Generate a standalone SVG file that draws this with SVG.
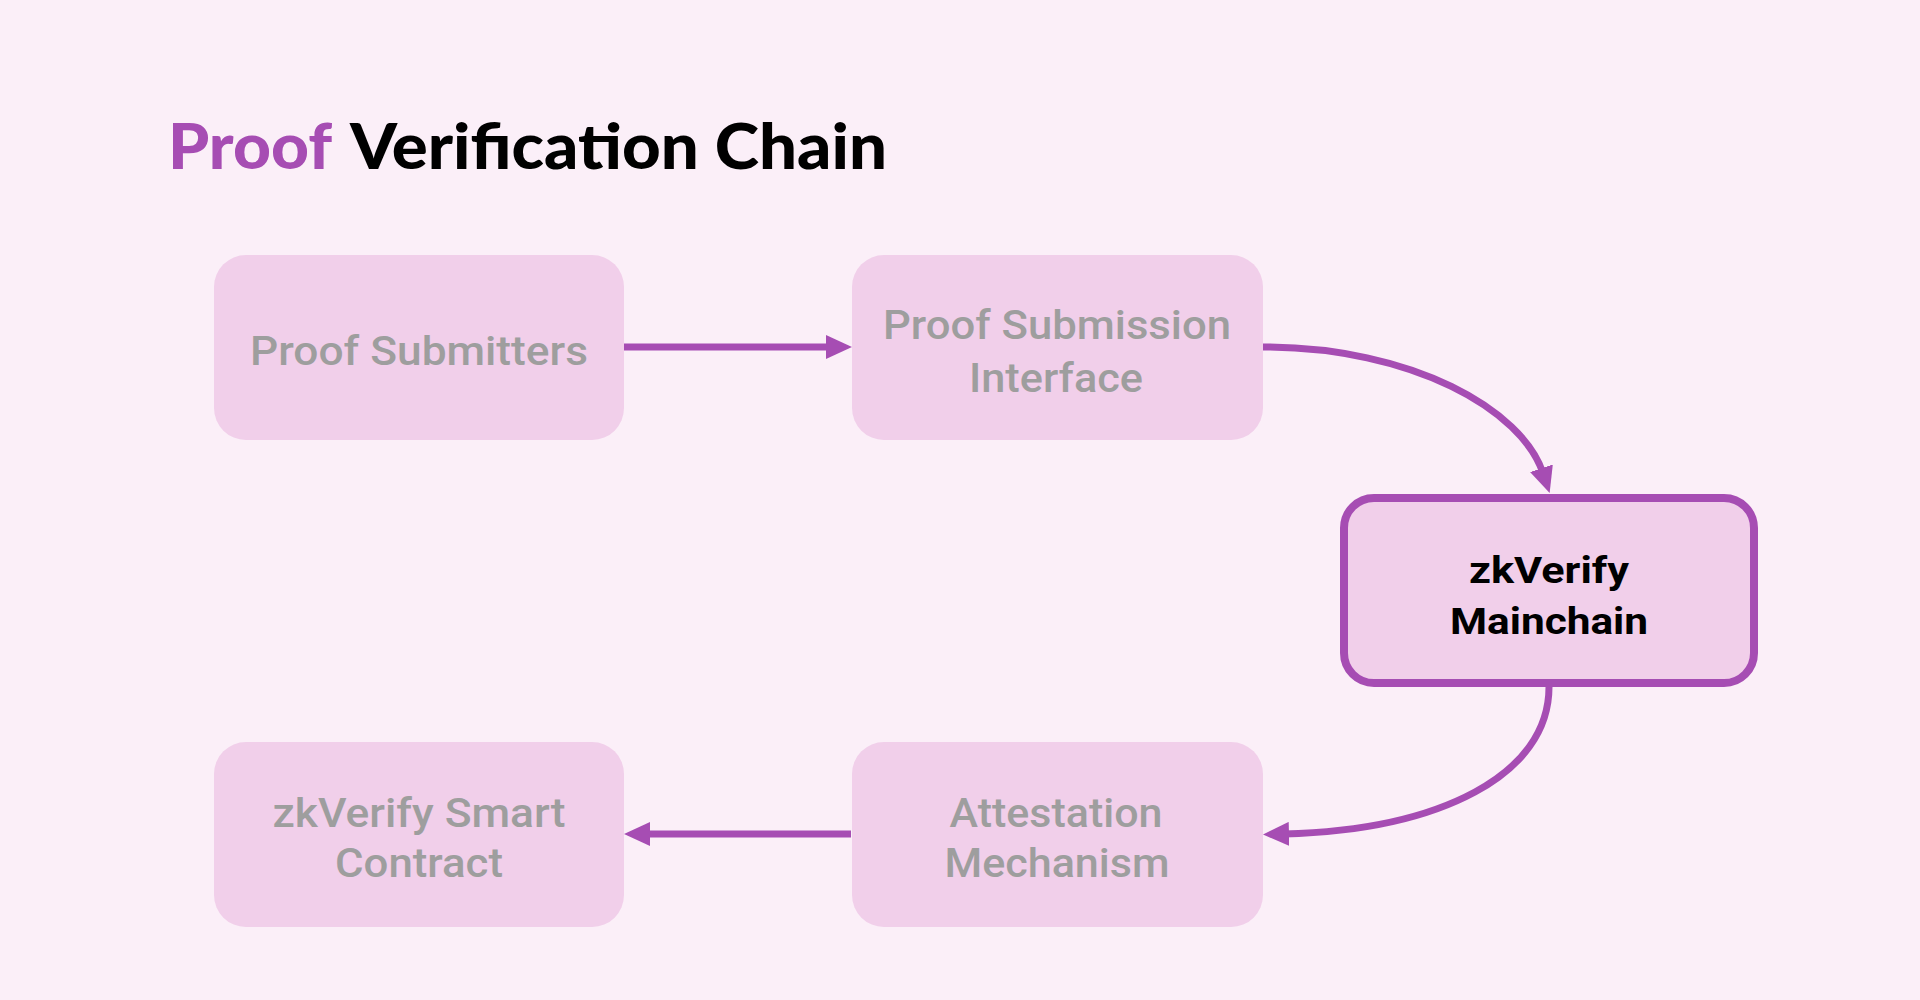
<svg xmlns="http://www.w3.org/2000/svg" width="1920" height="1000" viewBox="0 0 1920 1000">
<style>
.bg{fill:#FBEFF8}
.box{fill:#F1CFEA}
.main{fill:#F1CFEA;stroke:#A64DB3;stroke-width:8}
.lbl{font-family:Roboto,"Liberation Sans",sans-serif;font-size:40px;font-weight:500;fill:#9E9E9E;text-anchor:middle}
.mlbl{font-family:Roboto,"Liberation Sans",sans-serif;font-size:37px;font-weight:700;fill:#000;text-anchor:middle}
.title{font-family:Lato,"Liberation Sans",sans-serif;font-size:62px;font-weight:900}
.conn{fill:none;stroke:#A64DB3;stroke-width:7}
</style>
<defs>
<marker id="ah" viewBox="0 0 26 24" markerWidth="26" markerHeight="24" markerUnits="userSpaceOnUse" refX="5" refY="12" orient="auto">
<path d="M0,0 L26,12 L0,24 z" fill="#A64DB3"/>
</marker>
</defs>
<rect class="bg" x="0" y="0" width="1920" height="1000"/>
<g id="title">
<text class="title" x="168" y="169" fill="#A64DB3" textLength="164" lengthAdjust="spacingAndGlyphs">Proof</text>
<text class="title" x="350" y="169" fill="#000" textLength="537" lengthAdjust="spacingAndGlyphs">Verification Chain</text>
</g>
<g id="connectors">
<path class="conn" d="M624,347 L831,347" marker-end="url(#ah)"/>
<path class="conn" d="M1263,347 C1413,347 1522,410 1543,473" marker-end="url(#ah)"/>
<path class="conn" d="M1549,687 C1549,775 1440,830 1284,834" marker-end="url(#ah)"/>
<path class="conn" d="M851,834 L645,834" marker-end="url(#ah)"/>
</g>
<g id="node-proof-submitters">
<rect class="box" x="214" y="255" width="410" height="185" rx="32"/>
<text class="lbl" x="419" y="365" textLength="338" lengthAdjust="spacingAndGlyphs">Proof Submitters</text>
</g>
<g id="node-proof-submission-interface">
<rect class="box" x="852" y="255" width="411" height="185" rx="32"/>
<text class="lbl" x="1057" y="339" textLength="348" lengthAdjust="spacingAndGlyphs">Proof Submission</text>
<text class="lbl" x="1056" y="392" textLength="174" lengthAdjust="spacingAndGlyphs">Interface</text>
</g>
<g id="node-zkverify-mainchain">
<rect class="main" x="1344" y="498" width="410" height="185" rx="30"/>
<text class="mlbl" x="1549" y="583" textLength="160" lengthAdjust="spacingAndGlyphs">zkVerify</text>
<text class="mlbl" x="1549" y="634" textLength="198" lengthAdjust="spacingAndGlyphs">Mainchain</text>
</g>
<g id="node-attestation-mechanism">
<rect class="box" x="852" y="742" width="411" height="185" rx="32"/>
<text class="lbl" x="1056" y="827" textLength="213" lengthAdjust="spacingAndGlyphs">Attestation</text>
<text class="lbl" x="1057" y="877" textLength="225" lengthAdjust="spacingAndGlyphs">Mechanism</text>
</g>
<g id="node-zkverify-smart-contract">
<rect class="box" x="214" y="742" width="410" height="185" rx="32"/>
<text class="lbl" x="419" y="827" textLength="293" lengthAdjust="spacingAndGlyphs">zkVerify Smart</text>
<text class="lbl" x="419" y="877" textLength="168" lengthAdjust="spacingAndGlyphs">Contract</text>
</g>
</svg>
